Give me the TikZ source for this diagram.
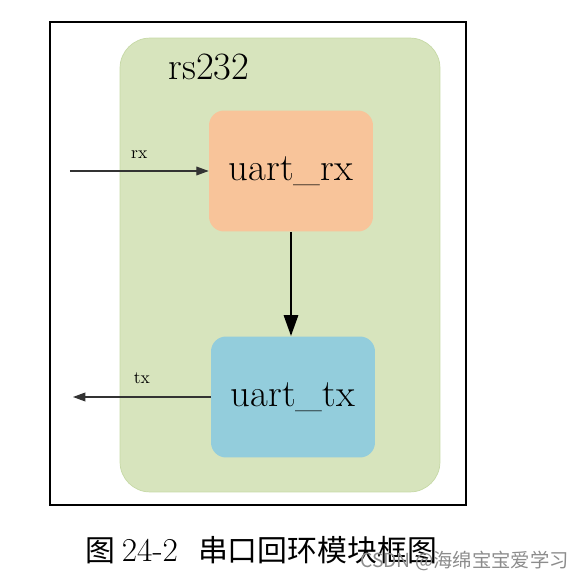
\documentclass[tikz,border=0pt]{standalone}
\usepackage{fontspec}
\newfontfamily\cjk{Noto Sans CJK SC}
\usetikzlibrary{arrows.meta}
\definecolor{modgreen}{HTML}{D7E4BD}
\definecolor{modgreenline}{HTML}{C6D9A6}
\definecolor{rxorange}{HTML}{F8C49A}
\definecolor{txblue}{HTML}{93CDDC}
\begin{document}
\begin{tikzpicture}[x=0.02cm,y=-0.02cm,
    blk/.style={rounded corners=0.3cm,minimum width=3.28cm,minimum height=2.42cm,
      inner sep=0pt,font=\fontsize{22}{24}\selectfont},
    sig/.style={draw=black!80,line width=0.6pt,-{Triangle[length=7pt,width=5pt]}},
    every node/.style={inner sep=0pt}]
  \useasboundingbox (0,0) rectangle (583,581);
  % outer frame
  \draw[line width=1.7pt] (50,22) rectangle (466,505);
  % module rs232
  \node[fill=modgreen,draw=modgreenline,rounded corners=0.6cm,
        minimum width=6.4cm,minimum height=9.08cm] (top) at (280,265) {};
  \node[font=\fontsize{22}{24}\selectfont] (toplbl) at (209,67) {rs232};
  \node[blk,fill=rxorange] (urx) at (291,171) {uart\_rx};
  \node[blk,fill=txblue] (utx) at (293,397) {uart\_tx};
  \coordinate (rxin) at (70,171);
  \coordinate (txout) at (73,397);
  \draw[sig] (rxin) -- node[above=7pt] (rxl) {rx} (urx.west);
  \draw[sig] (utx.west) -- node[above=7pt] (txl) {tx} (txout);
  \draw[line width=1.7pt,-{Triangle[length=12pt,width=8pt]}] (urx.south) -- (urx.south |- utx.north);
  % caption
  \node[font=\cjk\fontsize{17}{19}\selectfont,anchor=west] (cap) at (85,550)
    {图 \rmfamily\fontsize{19}{21}\selectfont 24-2\ \ \cjk\fontsize{17}{19}\selectfont 串口回环模块框图};
  \node[font=\cjk\fontsize{11}{13}\selectfont,text=black!45,anchor=west] (wm) at (360,561)
    {CSDN @海绵宝宝爱学习};
\end{tikzpicture}
\end{document}
